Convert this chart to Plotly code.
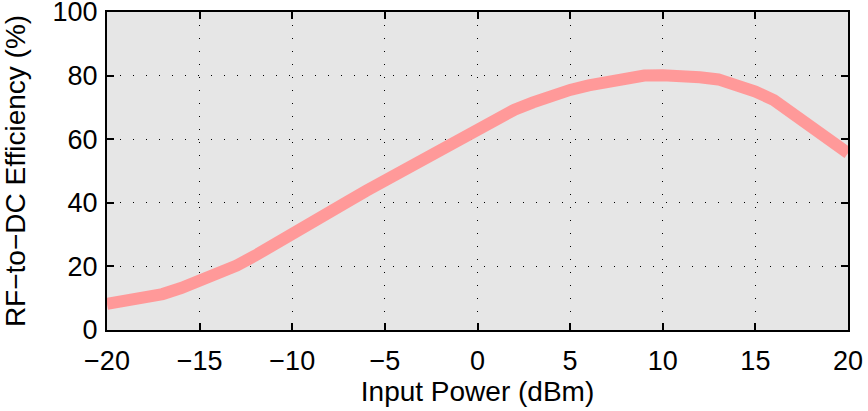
import plotly.graph_objects as go

input_power_dbm = [-20, -19, -18, -17, -16, -15, -14, -13, -12, -11, -10,
                   -9, -8, -7, -6, -5, -4, -3, -2, -1, 0,
                   1, 2, 3, 4, 5, 6, 7, 8, 9, 10,
                   11, 12, 13, 14, 15, 16, 17, 18, 19, 20]
efficiency_pct = [8.2, 9.0, 10.0, 11.3, 13.2, 15.3, 17.7, 20.3, 23.4, 26.6, 29.8,
                  33.2, 36.8, 40.4, 43.8, 47.0, 50.8, 54.2, 57.3, 60.3, 63.8,
                  66.9, 69.3, 71.6, 73.7, 75.5, 76.9, 78.2, 79.3, 80.0, 80.1,
                  80.0, 79.5, 78.8, 77.0, 75.0, 72.3, 68.4, 64.2, 60.0, 55.6]
x_ticks = [-20, -15, -10, -5, 0, 5, 10, 15, 20]
y_ticks = [0, 20, 40, 60, 80, 100]

fig = go.Figure()
fig.add_trace(go.Scatter(
    x=input_power_dbm, y=efficiency_pct, mode="lines",
    line=dict(color="#ff9999", width=12),
    showlegend=False,
))

tick_font = dict(family="Liberation Sans, Arial, sans-serif", size=27, color="black")
title_font = dict(family="Liberation Sans, Arial, sans-serif", size=28, color="black")
axis_common = dict(
    showline=True, linecolor="black", linewidth=2, mirror="ticks",
    ticks="inside", ticklen=7, tickwidth=1.5, tickcolor="black",
    showgrid=True, gridcolor="black", gridwidth=1, griddash="1px,12px",
    zeroline=False, tickfont=tick_font, title_font=title_font,
    automargin=False, ticklabeloverflow="allow",
)
fig.update_xaxes(range=[-20, 20], tickvals=x_ticks, ticklabelstandoff=6,
                 title_text="Input Power (dBm)", title_standoff=4, **axis_common)
fig.update_yaxes(range=[0, 100], tickvals=y_ticks, ticklabelstandoff=2,
                 title_text="RF\u2212to\u2212DC Efficiency (%)", title_standoff=28, **axis_common)

fig.update_layout(
    width=868, height=411,
    margin=dict(l=107, r=20, t=12, b=81),
    plot_bgcolor="#e6e6e6", paper_bgcolor="white",
    font=tick_font,
)
fig.write_html("out.html")
